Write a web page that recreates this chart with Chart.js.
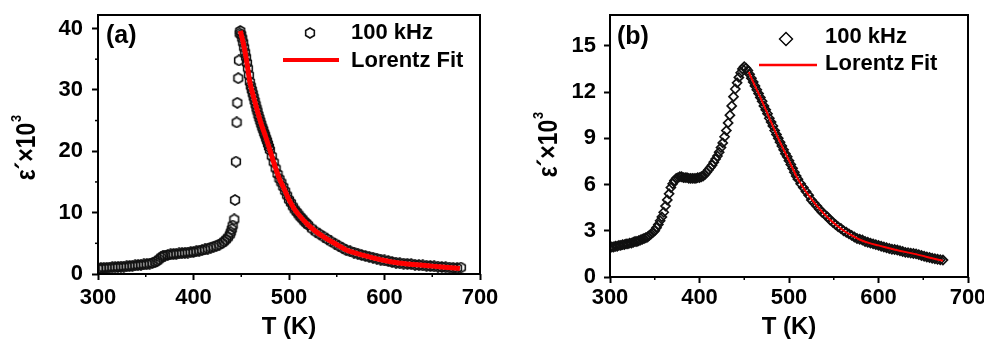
<!DOCTYPE html>
<html>
<head>
<meta charset="utf-8">
<script src="https://cdn.jsdelivr.net/npm/chart.js@4.4.0/dist/chart.umd.min.js"></script>
<style>
  html, body { margin: 0; padding: 0; background: #fff; }
  #wrap { position: relative; width: 984px; height: 339px; overflow: hidden; }
  #chartA { position: absolute; left: 0; top: 0; }
  #chartB { position: absolute; left: 492px; top: 0; }
</style>
</head>
<body>
<div id="wrap">
  <canvas id="chartA" width="520" height="339"></canvas>
  <canvas id="chartB" width="492" height="339"></canvas>
</div>
<script>
// ---- panel (a): 100 kHz data + Lorentz fit ----
const aTemp = [
  300,303,306,309,312,315,318,321,324,327,
  330,333,336,339,342,345,348,351,354,357,
  360,362,364,366,368,370,373,376,379,382,
  385,388,391,394,397,400,403,406,409,412,
  415,418,421,424,427,430,432,434,436,438,
  439,440,441,442.7,443.5,444.5,445.2,445.9,446.9,447.6,
  448.3,
  449,450,451,452,453,454,455,456,457,458,
  459,460,461,462,463,464,465,466,467,468,
  469,470,471,472,473,474,475,476,477,478,
  479,480,482,484,486,488,490,492,494,496,
  498,500,502,504,506,508,510,512,514,516,
  518,520,524,528,532,536,540,544,548,552,
  556,560,564,568,572,576,580,584,588,592,
  596,600,604,608,612,616,620,624,628,632,
  636,640,644,648,652,656,660,664,668,672,
  676,680
];
const aEps = [
  0.9,0.95,1.0,1.0,1.05,1.1,1.1,1.15,1.2,1.2,
  1.25,1.3,1.35,1.4,1.45,1.5,1.55,1.6,1.7,1.8,
  1.95,2.15,2.4,2.7,2.9,3.0,3.1,3.2,3.25,3.3,
  3.35,3.4,3.45,3.5,3.55,3.6,3.7,3.8,3.9,4.0,
  4.15,4.3,4.45,4.6,4.8,5.05,5.3,5.6,5.95,6.4,
  6.8,7.3,7.9,8.9,12.05,18.3,24.7,27.9,31.9,34.8,
  39.2,
  39.6,39.0,38.4,37.7,36.9,36.1,35.3,34.4,33.5,32.4,
  31.3,30.6,30.0,29.4,28.8,28.2,27.6,27.0,26.5,25.9,
  25.4,24.9,24.4,23.9,23.5,23.0,22.6,22.1,21.7,21.2,
  20.7,20.2,19.2,18.2,17.2,16.3,15.5,14.9,14.2,13.5,
  12.8,12.1,11.6,11.0,10.5,10.1,9.7,9.3,9.0,8.6,
  8.3,8.0,7.4,6.9,6.5,6.1,5.7,5.3,4.95,4.6,
  4.25,3.9,3.7,3.5,3.3,3.1,2.95,2.8,2.65,2.5,
  2.35,2.2,2.1,1.95,1.85,1.75,1.7,1.65,1.6,1.5,
  1.45,1.4,1.35,1.3,1.25,1.2,1.15,1.1,1.05,1.0,
  0.95,1.05
];
const aFitTemp = [449,452,455,459,463,467,471,475,480,485,490,495,500,505,510,520,530,540,550,560,570,580,590,600,615,630,645,660,679];
const aFitEps = [39.6,37.7,35.3,31.3,28.8,26.5,24.4,22.6,20.2,17.7,15.5,13.85,12.1,10.75,9.7,8.0,6.7,5.7,4.8,3.9,3.4,2.95,2.55,2.2,1.8,1.55,1.35,1.15,0.9];
const aMinorX = [350,450,550,650];
const aMinorY = [5,15,25,35];

// ---- panel (b) ----
const bTemp = [
  300,302,304,306,308,310,312,314,316,318,
  320,322,324,326,328,330,332,334,336,338,
  340,342,344,346,348,350,352,354,356,358,
  360,362,364,366,368,370,372,374,376,378,
  380,382,384,386,388,390,392,394,396,398,
  400,402,404,406,408,410,412,414,416,418,
  420,422,424,426,428,430,432,434,436,438,
  440,442,444,446,448,450,452,454,456,458,
  460,462,464,466,468,470,472,474,476,478,
  480,482,484,486,488,490,492,494,496,498,
  500,502,504,506,508,510,
  513,516,519,522,525,528,531,534,537,540,
  543,546,549,552,555,558,561,564,567,570,
  573,576,579,582,585,588,591,594,597,600,
  603,606,609,612,615,618,621,624,627,630,
  633,636,639,642,645,648,651,654,657,660,
  663,666,669,672
];
const bEps = [
  1.9,1.95,1.95,2.0,2.0,2.05,2.05,2.1,2.1,2.15,
  2.15,2.2,2.2,2.25,2.3,2.3,2.35,2.4,2.45,2.5,
  2.55,2.6,2.7,2.8,2.9,3.0,3.2,3.4,3.65,3.9,
  4.2,4.6,5.0,5.4,5.8,6.05,6.25,6.4,6.45,6.5,
  6.5,6.45,6.45,6.45,6.4,6.4,6.4,6.4,6.4,6.45,
  6.45,6.5,6.55,6.65,6.8,6.95,7.1,7.25,7.45,7.65,
  7.85,8.1,8.4,8.7,9.1,9.5,10.0,10.5,11.1,11.7,
  12.2,12.6,12.95,13.25,13.5,13.65,13.55,13.4,13.15,12.9,
  12.65,12.4,12.15,11.9,11.65,11.4,11.1,10.85,10.6,10.3,
  10.05,9.8,9.5,9.25,9.0,8.75,8.5,8.25,8.0,7.8,
  7.55,7.3,7.05,6.8,6.55,6.35,
  6.05,5.8,5.55,5.3,5.0,4.8,4.6,4.4,4.2,4.05,
  3.9,3.7,3.55,3.4,3.25,3.15,3.0,2.9,2.8,2.7,
  2.6,2.5,2.45,2.4,2.3,2.25,2.2,2.15,2.1,2.05,
  2.0,1.95,1.9,1.85,1.8,1.78,1.75,1.7,1.65,1.6,
  1.58,1.55,1.52,1.5,1.45,1.4,1.35,1.3,1.27,1.22,
  1.18,1.15,1.12,1.1
];
const bFitTemp = [455,460,470,480,490,500,510,520,530,540,550,560,570,580,590,600,620,640,660,672];
const bFitEps = [13.3,12.65,11.4,10.05,8.75,7.55,6.35,5.45,4.7,4.05,3.5,3.05,2.7,2.4,2.2,2.05,1.75,1.5,1.22,1.05];
const bMinorX = [350,450,550,650];
const bMinorY = [];

const FONT = '"Liberation Sans", Arial, Helvetica, sans-serif';
const INK = "#000";

function pts(xs, ys) {
  const n = Math.min(xs.length, ys.length);
  const out = [];
  for (let i = 0; i < n; i++) out.push({ x: xs[i], y: ys[i] });
  return out;
}

// open hexagon marker, pointy top
function hexagon(size) {
  const c = document.createElement("canvas");
  c.width = size; c.height = size;
  const g = c.getContext("2d");
  const r = size / 2 - 1;
  g.strokeStyle = "#111";
  g.lineWidth = 1.6;
  g.beginPath();
  for (let i = 0; i < 6; i++) {
    const a = -Math.PI / 2 + i * Math.PI / 3;
    const px = size / 2 + r * Math.cos(a), py = size / 2 + r * Math.sin(a);
    if (i === 0) g.moveTo(px, py); else g.lineTo(px, py);
  }
  g.closePath();
  g.stroke();
  return c;
}
const hexImg = hexagon(12);

function drawDiamond(ctx, x, y, r) {
  ctx.beginPath();
  ctx.moveTo(x, y - r); ctx.lineTo(x + r, y); ctx.lineTo(x, y + r); ctx.lineTo(x - r, y);
  ctx.closePath();
  ctx.strokeStyle = INK; ctx.lineWidth = 1.4;
  ctx.stroke();
}

const frame = {
  id: "frame",
  afterDraw(chart) {
    const { ctx, chartArea: a } = chart;
    ctx.save();
    ctx.strokeStyle = INK;
    ctx.lineWidth = 2;
    ctx.strokeRect(a.left, a.top, a.right - a.left, a.bottom - a.top);
    ctx.restore();
  }
};

const minorTicks = {
  id: "minorTicks",
  afterDraw(chart, args, o) {
    const { ctx } = chart;
    const { x, y } = chart.scales;
    ctx.save();
    ctx.strokeStyle = INK;
    ctx.lineWidth = 1.5;
    (o.x || []).forEach(v => {
      const p = x.getPixelForValue(v);
      ctx.beginPath(); ctx.moveTo(p, x.top); ctx.lineTo(p, x.top + o.len); ctx.stroke();
    });
    (o.y || []).forEach(v => {
      const p = y.getPixelForValue(v);
      ctx.beginPath(); ctx.moveTo(y.right, p); ctx.lineTo(y.right - o.len, p); ctx.stroke();
    });
    ctx.restore();
  }
};

// panel tag, legend and the y title with a raised exponent
const panelText = {
  id: "panelText",
  afterDraw(chart, args, o) {
    const { ctx } = chart;
    const ds = chart.data.datasets;
    ctx.save();
    ctx.fillStyle = INK;
    ctx.textBaseline = "middle";
    ctx.font = "bold 25px " + FONT;
    ctx.fillText(o.tag, o.tagX, o.tagY);
    ctx.font = "bold 22px " + FONT;
    ctx.fillText(ds[1].label, o.textX, o.row1Y);
    ctx.fillText(ds[0].label, o.textX, o.row2Y);
    o.marker(ctx, o.markX, o.markY);
    ctx.strokeStyle = "#ff0000";
    ctx.lineWidth = o.lineW;
    ctx.beginPath();
    ctx.moveTo(o.lineX1, o.lineY); ctx.lineTo(o.lineX2, o.lineY);
    ctx.stroke();
    ctx.restore();

    ctx.save();
    ctx.fillStyle = INK;
    ctx.textBaseline = "alphabetic";
    ctx.translate(o.titleBase, o.titleMid);
    ctx.rotate(-Math.PI / 2);
    ctx.scale(0.85, 1);
    const main = "ε´×10", sup = "3";
    ctx.font = "bold 27px " + FONT;
    const mw = ctx.measureText(main).width;
    ctx.font = "bold 15px " + FONT;
    const sw = ctx.measureText(sup).width;
    const x0 = -(mw + sw) / 2;
    ctx.font = "bold 27px " + FONT;
    ctx.fillText(main, x0, 0);
    ctx.font = "bold 15px " + FONT;
    ctx.fillText(sup, x0 + mw + 1, -14);
    ctx.restore();
  }
};

function makePanel(id, cfg) {
  const tickFont = { family: FONT, size: 22, weight: "bold" };
  return new Chart(document.getElementById(id), {
    type: "scatter",
    data: {
      datasets: [
        {
          label: "Lorentz Fit",
          type: "line",
          data: pts(cfg.fitT, cfg.fitE),
          borderColor: "#ff0000",
          borderWidth: cfg.fitWidth,
          pointRadius: 0,
          cubicInterpolationMode: "monotone",
          fill: false,
          order: 0
        },
        {
          label: "100 kHz",
          data: pts(cfg.dataT, cfg.dataE),
          showLine: false,
          pointStyle: cfg.pointStyle,
          pointRadius: cfg.pointRadius,
          borderColor: "#111",
          borderWidth: cfg.pointBorder,
          backgroundColor: "rgba(0,0,0,0)",
          order: 1
        }
      ]
    },
    options: {
      responsive: false,
      animation: false,
      devicePixelRatio: 1,
      layout: { padding: { left: 0, top: 15, right: cfg.padRight, bottom: 0 } },
      plugins: {
        legend: { display: false },
        tooltip: { enabled: false },
        minorTicks: { x: cfg.minorX, y: cfg.minorY, len: 3 },
        panelText: cfg.text
      },
      scales: {
        x: {
          type: "linear",
          min: 300, max: 700,
          border: { display: false },
          grid: { drawOnChartArea: false, drawTicks: true, tickLength: 6, tickWidth: 2, tickColor: INK },
          ticks: { stepSize: 100, font: tickFont, color: INK, padding: cfg.xPad, maxRotation: 0, autoSkip: false, includeBounds: false },
          title: { display: true, text: "T (K)", color: INK, font: { family: FONT, size: 24, weight: "bold", lineHeight: 1 }, padding: { top: 0, bottom: 0 } },
          afterFit: s => { s.height = cfg.xHeight; s.paddingLeft = 0; s.paddingRight = 0; }
        },
        y: {
          type: "linear",
          min: 0, max: cfg.yMax,
          border: { display: false },
          grid: { drawOnChartArea: false, drawTicks: true, tickLength: 6, tickWidth: 2, tickColor: INK },
          ticks: { stepSize: cfg.yStep, font: tickFont, color: INK, padding: cfg.yPad, autoSkip: false, includeBounds: false },
          title: { display: false },
          afterFit: s => { s.width = cfg.yWidth; s.paddingTop = 0; s.paddingBottom = 0; }
        }
      }
    },
    plugins: [frame, minorTicks, panelText]
  });
}

makePanel("chartA", {
  dataT: aTemp, dataE: aEps, fitT: aFitTemp, fitE: aFitEps,
  fitWidth: 5, pointStyle: hexImg, pointRadius: 6, pointBorder: 1,
  padRight: 40, xHeight: 65, yWidth: 98, yMax: 42.2, yStep: 10,
  xPad: 5, yPad: 9,
  minorX: aMinorX, minorY: aMinorY,
  text: {
    tag: "(a)", tagX: 106, tagY: 36,
    textX: 351, row1Y: 33, row2Y: 61,
    markX: 310, markY: 33,
    marker: (ctx, x, y) => ctx.drawImage(hexImg, x - 6, y - 6),
    lineX1: 283, lineX2: 339, lineY: 60, lineW: 4,
    titleBase: 35, titleMid: 148
  }
});

makePanel("chartB", {
  dataT: bTemp, dataE: bEps, fitT: bFitTemp, fitE: bFitEps,
  fitWidth: 2, pointStyle: "rectRot", pointRadius: 4.5, pointBorder: 1.7,
  padRight: 16, xHeight: 62, yWidth: 118, yMax: 17, yStep: 3,
  xPad: 2, yPad: 8,
  minorX: bMinorX, minorY: bMinorY,
  text: {
    tag: "(b)", tagX: 125, tagY: 37,
    textX: 333, row1Y: 37, row2Y: 64,
    markX: 294, markY: 39,
    marker: (ctx, x, y) => drawDiamond(ctx, x, y, 6.5),
    lineX1: 267, lineX2: 325, lineY: 65, lineW: 2.5,
    titleBase: 65, titleMid: 145
  }
});
</script>
</body>
</html>
